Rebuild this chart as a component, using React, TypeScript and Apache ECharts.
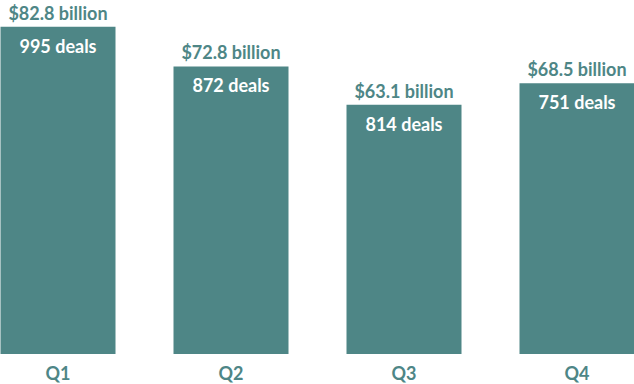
import React, { useEffect, useRef } from "react";
import * as echarts from "echarts";

const quarters = ["Q1", "Q2", "Q3", "Q4"];
const billions = [82.8, 72.8, 63.1, 68.5];
const deals = [995, 872, 814, 751];

const TEAL = "#4e8686";
const FONT = "Lato";

export default function App() {
  const ref = useRef<HTMLDivElement>(null);
  useEffect(() => {
    const chart = echarts.init(ref.current!, null, { renderer: "svg" });
    chart.setOption({
      animation: false,
      grid: {
        left: -28.5,
        width: 692,
        top: 0,
        height: 354,
        containLabel: false,
        outerBoundsMode: "none",
      },
      xAxis: {
        type: "category",
        data: quarters,
        axisLine: { show: false },
        axisTick: { show: false },
        axisLabel: {
          color: TEAL,
          fontFamily: FONT,
          fontWeight: "bold",
          fontSize: 18,
          margin: 10,
        },
      },
      yAxis: {
        type: "value",
        min: 0,
        max: 89.6,
        show: false,
        splitLine: { show: false },
      },
      series: [
        {
          type: "bar",
          data: billions,
          barWidth: 115,
          itemStyle: { color: TEAL },
          label: {
            show: true,
            position: "top",
            distance: 5,
            color: TEAL,
            fontFamily: FONT,
            fontWeight: "bold",
            fontSize: 18,
            formatter: (p: any) => `$${billions[p.dataIndex].toFixed(1)} billion`,
          },
        },
        {
          type: "bar",
          data: billions,
          barWidth: 115,
          barGap: "-100%",
          itemStyle: { color: "rgba(0,0,0,0)" },
          label: {
            show: true,
            position: "insideTop",
            distance: 10,
            color: "#ffffff",
            fontFamily: FONT,
            fontWeight: "bold",
            fontSize: 18,
            formatter: (p: any) => `${deals[p.dataIndex]} deals`,
          },
        },
      ],
    });
    return () => chart.dispose();
  }, []);
  return (
    <div
      ref={ref}
      style={{ width: 634, height: 384, position: "absolute", left: 0, top: 0 }}
    />
  );
}
